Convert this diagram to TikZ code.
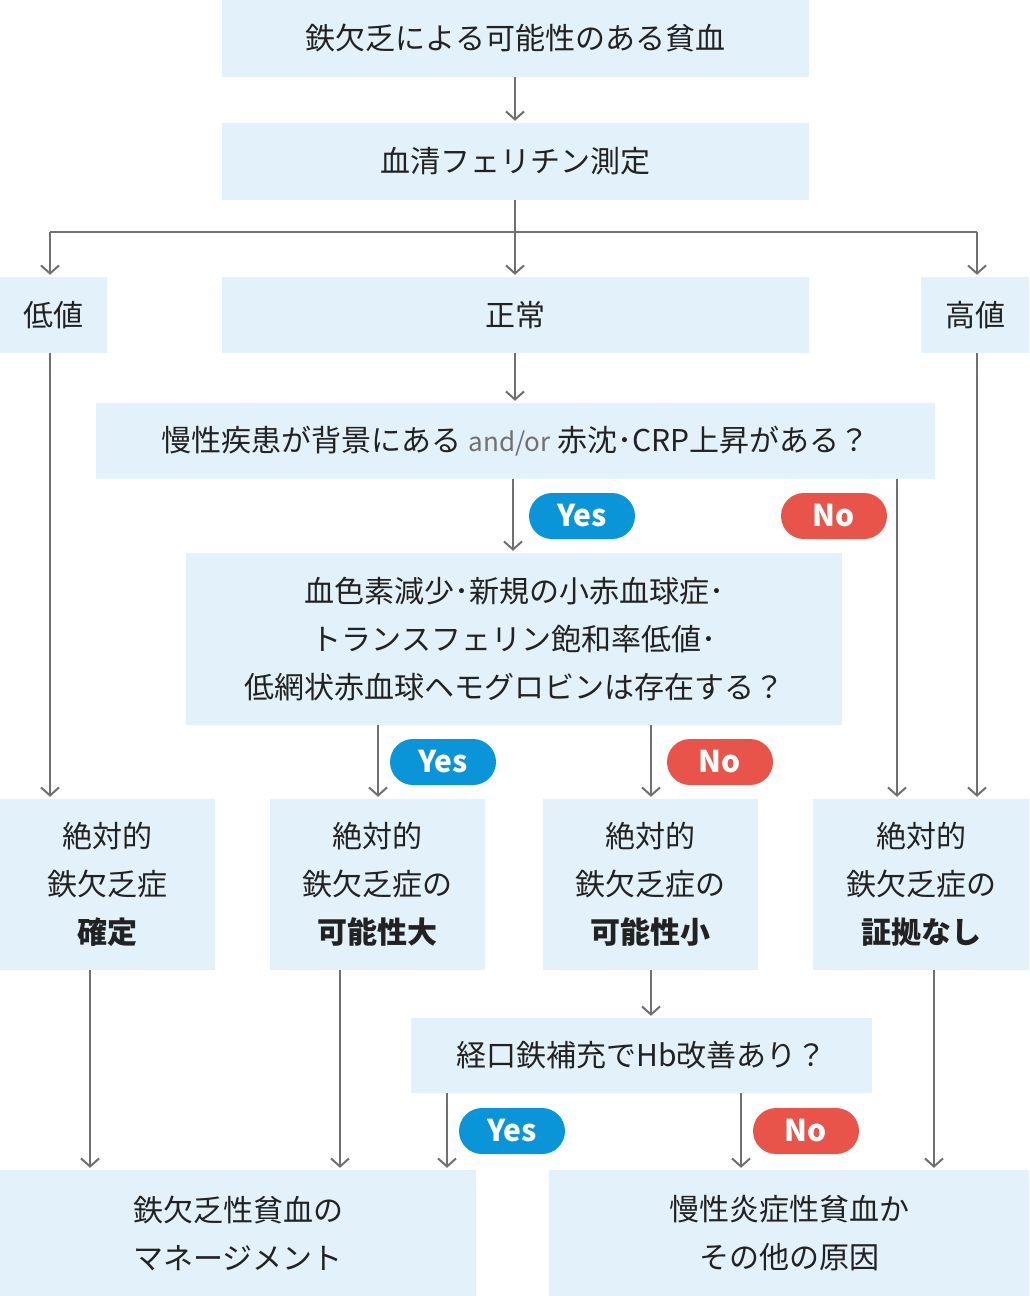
\documentclass[tikz,border=0pt]{standalone}
\usepackage{fontspec}
\setmainfont{Noto Sans CJK JP}
\usetikzlibrary{arrows.meta}
\definecolor{boxc}{HTML}{E3F2FA}
\definecolor{arrc}{HTML}{707070}
\definecolor{yesc}{HTML}{0A95D8}
\definecolor{noc}{HTML}{E8534A}
\definecolor{txt}{HTML}{222222}
\tikzset{
 box/.style={fill=boxc,inner sep=0pt,align=center,text=txt,font=\fontsize{30}{48}\selectfont},
 arr/.style={draw=arrc,line width=2pt,-{Straight Barb[length=8pt,width=18pt,line width=2pt]},shorten >=2pt},
 ln/.style={draw=arrc,line width=2pt},
 pill/.style={rounded corners=23pt,minimum width=106pt,minimum height=46pt,inner sep=0pt,text=white,font=\fontsize{30}{34}\selectfont\bfseries},
 yes/.style={pill,fill=yesc},
 no/.style={pill,fill=noc}
}
\begin{document}
\begin{tikzpicture}[x=1pt,y=-1pt]
\useasboundingbox (0,0) rectangle (1029,1296);
\node[box,minimum width=587pt,minimum height=77pt] (a) at (515.5,38.5) {鉄欠乏による可能性のある貧血};
\node[box,minimum width=587pt,minimum height=77pt] (b) at (515.5,161.5) {血清フェリチン測定};
\node[box,minimum width=107pt,minimum height=76pt] (low) at (53.5,315) {低値};
\node[box,minimum width=587pt,minimum height=76pt] (norm) at (515.5,315) {正常};
\node[box,minimum width=108pt,minimum height=76pt] (high) at (975,315) {高値};
\node[box,minimum width=839pt,minimum height=76pt] (q) at (515.5,441) {慢性疾患が背景にある {\fontsize{26}{30}\selectfont\color{arrc}and/or} 赤沈･CRP上昇がある？};
\node[box,minimum width=656pt,minimum height=172pt] (big) at (514,639) {血色素減少･新規の小赤血球症･\\トランスフェリン飽和率低値･\\低網状赤血球ヘモグロビンは存在する？};
\node[box,minimum width=215pt,minimum height=171pt] (c1) at (107.5,884.5) {絶対的\\鉄欠乏症\\\textbf{確定}};
\node[box,minimum width=215pt,minimum height=171pt] (c2) at (377.5,884.5) {絶対的\\鉄欠乏症の\\\textbf{可能性大}};
\node[box,minimum width=215pt,minimum height=171pt] (c3) at (650.5,884.5) {絶対的\\鉄欠乏症の\\\textbf{可能性小}};
\node[box,minimum width=216pt,minimum height=171pt] (c4) at (921,884.5) {絶対的\\鉄欠乏症の\\\textbf{証拠なし}};
\node[box,minimum width=461pt,minimum height=75pt] (o) at (641.5,1055.5) {経口鉄補充でHb改善あり？};
\node[box,minimum width=476pt,minimum height=126pt] (m) at (238,1233) {鉄欠乏性貧血の\\マネージメント};
\node[box,minimum width=480pt,minimum height=126pt] (oth) at (789,1233) {慢性炎症性貧血か\\その他の原因};
\foreach \n/\x in {x50/50,x90/90,x340/340,x378/378,x447/447,x513/513,x515/515,x651/651,x741/741,x897/897,x934/934,x977/977}
  \coordinate (\n) at (\x,0);
\coordinate (jl) at (50,232); \coordinate (jr) at (977,232); \coordinate (jm) at (515,232);
\draw[arr] (a.south -| x515) -- (b.north -| x515);
\draw[ln] (b.south -| x515) -- (jm);
\draw[ln] (jl) -- (jr);
\draw[arr] (jl) -- (low.north -| x50);
\draw[arr] (jm) -- (norm.north -| x515);
\draw[arr] (jr) -- (high.north -| x977);
\draw[arr] (norm.south -| x515) -- (q.north -| x515);
\draw[arr] (q.south -| x513) -- (big.north -| x513);
\draw[arr] (q.south -| x897) -- (c4.north -| x897);
\draw[arr] (low.south -| x50) -- (c1.north -| x50);
\draw[arr] (high.south -| x977) -- (c4.north -| x977);
\draw[arr] (big.south -| x378) -- (c2.north -| x378);
\draw[arr] (big.south -| x651) -- (c3.north -| x651);
\draw[arr] (c3.south -| x651) -- (o.north -| x651);
\draw[arr] (o.south -| x447) -- (m.north -| x447);
\draw[arr] (o.south -| x741) -- (oth.north -| x741);
\draw[arr] (c1.south -| x90) -- (m.north -| x90);
\draw[arr] (c2.south -| x340) -- (m.north -| x340);
\draw[arr] (c4.south -| x934) -- (oth.north -| x934);
\node[yes] (y1) at (582,516) {Yes};
\node[no] (n1) at (834,516) {No};
\node[yes] (y2) at (443,762) {Yes};
\node[no] (n2) at (720,762) {No};
\node[yes] (y3) at (512,1131) {Yes};
\node[no] (n3) at (806,1131) {No};
\end{tikzpicture}
\end{document}
